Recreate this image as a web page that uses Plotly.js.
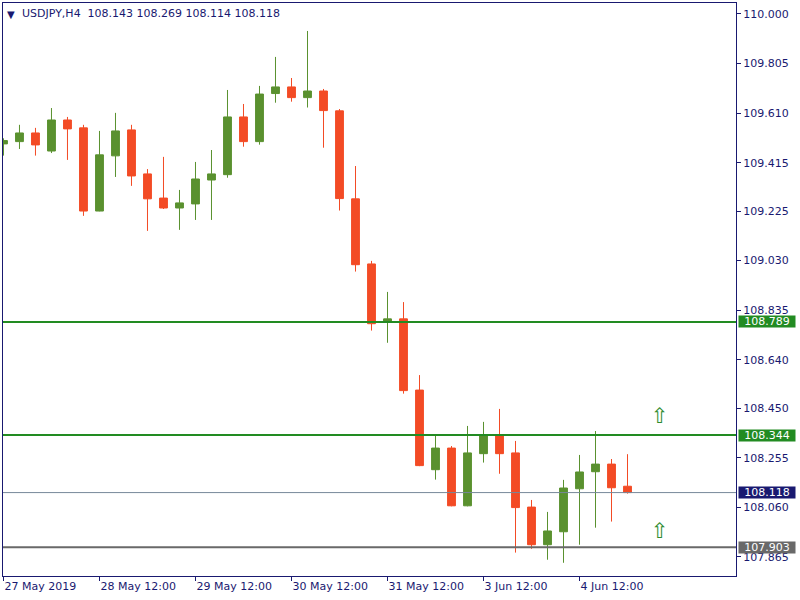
<!DOCTYPE html>
<html>
<head>
<meta charset="utf-8">
<script src="https://cdn.plot.ly/plotly-3.0.1.min.js"></script>
<style>html,body{margin:0;padding:0;background:#fff;}#chart{width:800px;height:600px;}</style>
</head>
<body>
<div id="chart"></div>
<script>
// Bar index (H4 bars, 27 May 2019 12:00 onwards)
const barIndex = [0,1,2,3,4,5,6,7,8,9,10,11,12,13,14,15,16,17,18,19,20,21,22,23,24,25,26,27,28,29,30,31,32,33,34,35,36,37,38,39];
const openP  = [109.489,109.498,109.532,109.461,109.583,109.552,109.225,109.442,109.544,109.371,109.276,109.237,109.253,109.347,109.368,109.595,109.498,109.687,109.713,109.671,109.697,109.619,109.273,109.017,108.788,108.801,108.521,108.208,108.293,108.066,108.271,108.344,108.274,108.061,107.913,107.964,108.133,108.200,108.230,108.143];
const highP  = [109.511,109.564,109.552,109.630,109.595,109.564,109.540,109.611,109.564,109.390,109.438,109.308,109.418,109.465,109.701,109.646,109.717,109.831,109.748,109.933,109.705,109.626,109.402,109.029,108.907,108.867,108.580,108.344,108.301,108.380,108.396,108.447,108.321,108.089,108.042,108.168,108.266,108.360,108.250,108.269];
const lowP   = [109.443,109.469,109.443,109.453,109.426,109.206,109.224,109.359,109.324,109.147,109.233,109.151,109.190,109.190,109.356,109.478,109.486,109.651,109.655,109.632,109.474,109.227,108.987,108.755,108.707,108.507,108.222,108.169,108.064,108.064,108.236,108.192,107.882,107.897,107.854,107.842,107.913,107.980,108.004,108.114];
const closeP = [109.502,109.532,109.485,109.583,109.548,109.225,109.446,109.540,109.363,109.273,109.237,109.257,109.351,109.371,109.595,109.498,109.685,109.713,109.671,109.697,109.620,109.274,109.014,108.782,108.801,108.519,108.224,108.293,108.066,108.274,108.344,108.271,108.059,107.913,107.967,108.136,108.199,108.230,108.137,108.118];

const xTickVals = [0,6,12,18,24,30,36];
const xTickText = ["27 May 2019","28 May 12:00","29 May 12:00","30 May 12:00","31 May 12:00","3 Jun 12:00","4 Jun 12:00"];
const yTickVals = [110.000,109.805,109.610,109.415,109.225,109.030,108.835,108.640,108.450,108.255,108.060,107.865];
const yTickText = ["110.000","109.805","109.610","109.415","109.225","109.030","108.835","108.640","108.450","108.255","108.060","107.865"];

// Horizontal levels
const levelPrices = [108.789,108.344,108.118,107.903];
const levelColors = ["#228B22","#228B22","#778899","#696969"];
const levelWidths = [2,2,1,2];
const levelLabelBg = ["#228B22","#228B22","#191970","#696969"];

// Up-arrow signals
const arrowX = [41,41];
const arrowY = [108.419,107.967];

const symbolText = "USDJPY,H4\u00A0\u00A0108.143 108.269 108.114 108.118";

const navy = "#191970";
const fontFam = "DejaVu Sans, Verdana, sans-serif";

const traces = [{
  type: "candlestick",
  x: barIndex, open: openP, high: highP, low: lowP, close: closeP,
  increasing: {line: {color: "#5A912F", width: 1}, fillcolor: "#5A912F"},
  decreasing: {line: {color: "#F34B25", width: 1}, fillcolor: "#F34B25"},
  whiskerwidth: 0,
  hoverinfo: "none",
  showlegend: false
}];

const shapes = levelPrices.map((p, i) => ({
  type: "line", xref: "paper", yref: "y", x0: 0, x1: 1, y0: p, y1: p,
  line: {color: levelColors[i], width: levelWidths[i]}, layer: "above"
}));

const annotations = levelPrices.map((p, i) => ({
  xref: "paper", yref: "y", x: 1, y: p, xanchor: "left", yanchor: "middle",
  xshift: 2, text: p.toFixed(3), showarrow: false,
  bgcolor: levelLabelBg[i], width: 56, height: 11, align: "center",
  borderpad: 0, font: {family: fontFam, size: 11, color: "#ffffff"}
}));

arrowX.forEach((xv, i) => annotations.push({
  xref: "x", yref: "y", x: xv, y: arrowY[i], text: "\u21E7", showarrow: false,
  font: {family: fontFam, size: 21, color: "#2E8B2E"}
}));

annotations.push({
  xref: "paper", yref: "paper", x: 0, y: 1, xanchor: "left", yanchor: "top",
  xshift: 2, yshift: -4, text: "\u25BC", showarrow: false,
  font: {family: fontFam, size: 10, color: navy}
});

const layout = {
  width: 800, height: 600,
  margin: {l: 3, r: 64, t: 3, b: 24},
  paper_bgcolor: "#ffffff", plot_bgcolor: "#ffffff",
  font: {family: fontFam, size: 11, color: navy},
  title: {text: symbolText, x: 22/800, xref: "container", xanchor: "left",
          y: 1 - 13/600, yref: "container", yanchor: "middle",
          font: {family: fontFam, size: 11, color: navy}},
  xaxis: {
    range: [-0.03, 45.78], rangeslider: {visible: false},
    tickvals: xTickVals, ticktext: xTickText, tickangle: 0,
    ticks: "outside", ticklen: 4, tickcolor: navy,
    ticklabelposition: "outside right",
    showgrid: false, zeroline: false,
    showline: true, linecolor: navy, linewidth: 1, mirror: true,
    tickfont: {family: fontFam, size: 11, color: navy}
  },
  yaxis: {
    range: [107.790, 110.043], side: "right",
    tickvals: yTickVals, ticktext: yTickText,
    ticks: "outside", ticklen: 4, tickcolor: navy,
    showgrid: false, zeroline: false,
    showline: true, linecolor: navy, linewidth: 1, mirror: true,
    tickfont: {family: fontFam, size: 11, color: navy}
  },
  shapes: shapes,
  annotations: annotations,
  hovermode: false
};

Plotly.newPlot("chart", traces, layout, {displayModeBar: false, staticPlot: true});
</script>
</body>
</html>
